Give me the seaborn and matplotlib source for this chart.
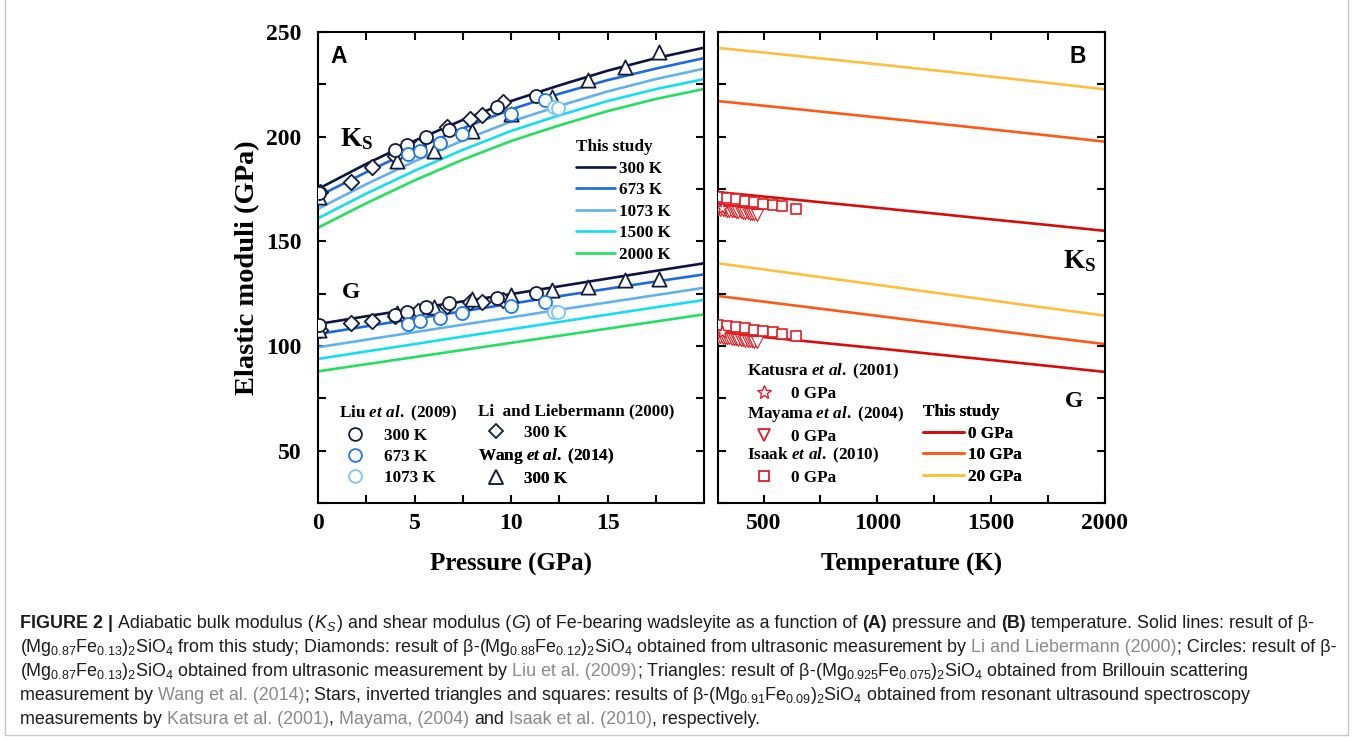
import numpy as np
import pandas as pd
import matplotlib
matplotlib.use("Agg")
import matplotlib.pyplot as plt
import seaborn as sns
from matplotlib.lines import Line2D
from matplotlib.ticker import MultipleLocator, FixedLocator

# ---------------- data ----------------
pressure = [0, 2.5, 5, 7.5, 10, 12.5, 15, 17.5, 20]
temps_A = ["300 K", "673 K", "1073 K", "1500 K", "2000 K"]
ks_300 = [175.0, 187.0, 198.0, 208.0, 217.0, 224.5, 231.5, 237.5, 242.5]
ks_673 = [171.5, 183.0, 194.0, 204.0, 213.0, 220.5, 227.0, 232.5, 237.5]
ks_1073 = [165.5, 177.3, 188.2, 198.2, 207.2, 214.7, 221.6, 227.5, 232.5]
ks_1500 = [161.0, 172.8, 183.7, 193.7, 202.7, 210.2, 217.0, 222.7, 227.5]
ks_2000 = [156.5, 168.2, 179.1, 189.0, 197.9, 205.4, 212.2, 218.0, 222.8]
g_300 = [110.5, 114.2, 117.8, 121.3, 124.8, 128.5, 132.2, 135.9, 139.5]
g_673 = [105.7, 109.4, 113.0, 116.6, 120.2, 123.8, 127.3, 130.8, 134.2]
g_1073 = [99.4, 103.0, 106.6, 110.2, 113.7, 117.3, 120.8, 124.3, 127.8]
g_1500 = [93.8, 97.4, 100.9, 104.5, 108.0, 111.5, 115.0, 118.5, 122.0]
g_2000 = [87.9, 91.3, 94.7, 98.1, 101.5, 104.9, 108.3, 111.7, 115.1]

# Liu et al. (2009)
liu300_P = [0.07, 3.98, 4.59, 5.59, 6.8, 9.3, 11.28]
liu300_K = [172.9, 193.6, 196.0, 200.0, 203.2, 214.0, 219.4]
liu300_G = [110.0, 114.8, 116.4, 118.5, 120.4, 122.8, 125.2]
liu673_P = [4.67, 5.28, 6.31, 7.48, 9.98, 11.78]
liu673_K = [191.7, 193.3, 196.8, 201.1, 210.8, 217.5]
liu673_G = [110.5, 111.9, 113.2, 115.9, 119.1, 121.1]
liu1073_P = [12.21, 12.43]
liu1073_K = [214.3, 213.5]
liu1073_G = [116.4, 116.4]
# Li and Liebermann (2000)
li_P = [0.1, 1.7, 2.8, 4.0, 5.2, 6.7, 7.9, 8.5, 9.6]
li_K = [173.5, 178.3, 185.5, 191.0, 195.5, 204.5, 208.5, 210.5, 216.5]
li_G = [107.6, 110.8, 111.9, 114.3, 116.5, 119.1, 121.1, 121.1, 122.0]
# Wang et al. (2014)
wang_P = [0.07, 4.07, 6.0, 8.0, 9.98, 12.15, 14.0, 15.92, 17.65]
wang_K = [171.3, 188.5, 193.0, 202.6, 210.7, 219.1, 227.1, 233.4, 240.6]
wang_G = [107.5, 116.0, 118.8, 122.4, 124.3, 126.7, 128.3, 131.5, 131.8]

# Panel B: this study
temperature = [300, 500, 750, 1000, 1250, 1500, 1750, 2000]
press_B = ["0 GPa", "10 GPa", "20 GPa"]
ksT_0 = [173.5, 171.4, 168.7, 166.0, 163.3, 160.5, 157.8, 155.0]
ksT_10 = [217.0, 214.8, 212.0, 209.2, 206.4, 203.5, 200.6, 197.6]
ksT_20 = [242.4, 240.2, 237.4, 234.6, 231.7, 228.7, 225.7, 222.6]
gT_0 = [106.5, 104.3, 101.6, 98.9, 96.1, 93.3, 90.5, 87.6]
gT_10 = [123.9, 121.2, 117.8, 114.4, 111.0, 107.6, 104.2, 100.9]
gT_20 = [139.5, 136.6, 132.9, 129.2, 125.5, 121.8, 118.1, 114.5]
# Isaak et al. (2010)
isaak_T = [300, 338, 379, 419, 460, 499, 540, 580, 641]
isaak_K = [171.0, 170.5, 170.1, 169.3, 168.6, 168.0, 167.5, 166.9, 165.3]
isaak_G = [110.0, 109.5, 108.9, 108.4, 107.8, 107.3, 106.5, 105.7, 104.8]
# Mayama et al. (2004)
mayama_T = [300, 310, 320, 330, 340, 350, 360, 370, 380, 390, 400, 410, 420, 430, 440, 450, 460, 470]
mayama_K = [165.3, 165.2, 165.0, 164.9, 164.7, 164.6, 164.4, 164.3, 164.1, 164.0, 163.8, 163.7, 163.5, 163.4, 163.2, 163.1, 162.9, 162.8]
mayama_G = [104.3, 104.2, 104.0, 103.9, 103.7, 103.6, 103.4, 103.3, 103.2, 103.0, 102.9, 102.7, 102.6, 102.4, 102.3, 102.2, 102.0, 101.9]
# Katsura et al. (2001)
katsura_T = [318]
katsura_K = [166.1]
katsura_G = [106.8]

# ---------------- style ----------------
sns.set_theme(style="ticks")
SERIF = "Liberation Serif"
plt.rcParams.update({
    "font.family": [SERIF, "DejaVu Serif"],
    "font.weight": "bold",
    "mathtext.fontset": "custom",
    "mathtext.rm": "Liberation Serif:bold",
    "mathtext.it": "Liberation Serif:italic:bold",
    "mathtext.bf": "Liberation Serif:bold",
    "axes.linewidth": 1.5,
    "axes.edgecolor": "black",
    "xtick.color": "black",
    "ytick.color": "black",
    "axes.labelcolor": "black",
    "text.color": "black",
})

colA = ["#0c1445", "#1a6ae6", "#62b2ee", "#12e0f0", "#22e060"]
colB = ["#d90c0c", "#ff5a14", "#ffbe3c"]
navy_m = "#141c3c"
red_m = "#e01e24"

W, H = 1354, 740
fig = plt.figure(figsize=(W / 100, H / 100), dpi=100)


def rect(x0, y0, x1, y1):
    return [x0 / W, 1 - y1 / H, (x1 - x0) / W, (y1 - y0) / H]


axA = fig.add_axes(rect(318, 32, 704, 503))
axB = fig.add_axes(rect(718, 32, 1105, 503))

# ---------------- panel A ----------------
dfA = pd.DataFrame({
    "P": pressure * 5,
    "K": ks_300 + ks_673 + ks_1073 + ks_1500 + ks_2000,
    "G": g_300 + g_673 + g_1073 + g_1500 + g_2000,
    "T": [t for t in temps_A for _ in pressure],
})
for col in ["K", "G"]:
    sns.lineplot(data=dfA, x="P", y=col, hue="T", hue_order=temps_A, palette=colA,
                 legend=False, ax=axA, linewidth=1.9, estimator=None, sort=False)

mk = dict(color="white", linewidth=1.3, zorder=3, ax=axA)
for y in [li_K, li_G]:
    sns.scatterplot(x=li_P, y=y, marker="D", s=62, edgecolor=navy_m, **mk)
for y in [wang_K, wang_G]:
    sns.scatterplot(x=wang_P, y=y, marker="^", s=105, edgecolor=navy_m, **mk)
for xs, ys, c in [(liu300_P, liu300_K, "#141c3c"), (liu300_P, liu300_G, "#141c3c"),
                  (liu673_P, liu673_K, "#1f78f0"), (liu673_P, liu673_G, "#1f78f0"),
                  (liu1073_P, liu1073_K, "#7cc6f6"), (liu1073_P, liu1073_G, "#7cc6f6")]:
    sns.scatterplot(x=xs, y=ys, marker="o", s=88, edgecolor=c, **mk)

# ---------------- panel B ----------------
dfB = pd.DataFrame({
    "T": temperature * 3,
    "K": ksT_0 + ksT_10 + ksT_20,
    "G": gT_0 + gT_10 + gT_20,
    "P": [p for p in press_B for _ in temperature],
})
for col in ["K", "G"]:
    sns.lineplot(data=dfB, x="T", y=col, hue="P", hue_order=press_B, palette=colB,
                 legend=False, ax=axB, linewidth=1.9, estimator=None, sort=False)
mkB = dict(color="white", edgecolor=red_m, zorder=3, ax=axB)
for y in [isaak_K, isaak_G]:
    sns.scatterplot(x=isaak_T, y=y, marker="s", s=48, linewidth=1.2, **mkB)
for y in [mayama_K, mayama_G]:
    sns.scatterplot(x=mayama_T, y=y, marker="v", s=75, linewidth=0.8, **mkB)
for y in [katsura_K, katsura_G]:
    sns.scatterplot(x=katsura_T, y=y, marker="*", s=90, linewidth=1.0, **mkB)

# ---------------- axes formatting ----------------
tickfont = dict(family=SERIF, weight="bold", size=17)
for ax in (axA, axB):
    ax.set_ylim(25, 250)
    ax.yaxis.set_major_locator(FixedLocator([50, 100, 150, 200, 250]))
    ax.yaxis.set_minor_locator(FixedLocator([25, 75, 125, 175, 225]))
    ax.tick_params(which="both", direction="in", top=True, right=True,
                   length=6, width=1.5, labelsize=17)
    for s in ax.spines.values():
        s.set_linewidth(1.5)
        s.set_visible(True)
    ax.set_xlabel("")
    ax.set_ylabel("")

axA.set_xlim(0, 20)
axA.xaxis.set_major_locator(FixedLocator([0, 5, 10, 15]))
axA.xaxis.set_minor_locator(FixedLocator([2.5, 7.5, 12.5, 17.5]))
axA.tick_params(axis="y", pad=12)
axA.tick_params(axis="x", pad=7)
axB.set_xlim(300, 2000)
axB.xaxis.set_major_locator(FixedLocator([500, 1000, 1500, 2000]))
axB.xaxis.set_minor_locator(FixedLocator([750, 1250, 1750]))
axB.tick_params(axis="y", labelleft=False)
axB.tick_params(axis="x", pad=7)
for ax in (axA, axB):
    for lab in ax.get_xticklabels() + ax.get_yticklabels():
        lab.set_fontproperties(tickfont)

axA.set_xlabel("Pressure (GPa)", fontsize=18, fontweight="bold", labelpad=14)
axB.set_xlabel("Temperature (K)", fontsize=18, fontweight="bold", labelpad=14)
axA.set_ylabel("Elastic moduli (GPa)", fontsize=20.5, fontweight="bold", labelpad=4)

# panel annotations
axA.text(0.031, 0.934, "A", transform=axA.transAxes, family="Liberation Sans",
         weight="bold", size=16.5, va="baseline")
axB.text(0.907, 0.934, "B", transform=axB.transAxes, family="Liberation Sans",
         weight="bold", size=16.5, va="baseline")
axA.text(0.057, 0.758, r"$\mathregular{K_S}$", transform=axA.transAxes, size=19.5,
         weight="bold", va="baseline")
axA.text(0.062, 0.435, "G", transform=axA.transAxes, size=17, weight="bold", va="baseline")
axB.text(0.891, 0.499, r"$\mathregular{K_S}$", transform=axB.transAxes, size=19.5,
         weight="bold", va="baseline")
axB.text(0.897, 0.204, "G", transform=axB.transAxes, size=17, weight="bold", va="baseline")

# ---------------- legends ----------------
lp = dict(family=SERIF, weight="bold", size=12.3)


def add_leg(ax, handles, labels, title, x, y, hl, htp, ls=0.28):
    leg = ax.legend(handles, labels, title=title, loc="upper left", bbox_to_anchor=(x, y),
                    bbox_transform=ax.transAxes, frameon=False, borderpad=0,
                    borderaxespad=0, prop=lp, title_fontproperties=lp, alignment="left",
                    handlelength=hl, handletextpad=htp, labelspacing=ls)
    ax.add_artist(leg)
    return leg


def mline(c):
    return Line2D([], [], color=c, lw=1.9)


def mmark(m, c, ms, mew=1.3):
    return Line2D([], [], marker=m, ls="none", mfc="white", mec=c, ms=ms, mew=mew)


add_leg(axA, [mline(c) for c in colA], temps_A, "This study", 0.668, 0.773, 2.3, 0.25, 0.33)
add_leg(axA, [mmark("o", c, 9.2) for c in ["#141c3c", "#1f78f0", "#7cc6f6"]],
        ["300 K", "673 K", "1073 K"], r"Liu $\mathit{et\ al.}$ (2009)", 0.055, 0.211, 1.8, 0.8, 0.3)
add_leg(axA, [mmark("D", navy_m, 7.6)], ["300 K"], "Li  and Liebermann (2000)",
        0.415, 0.211, 2.1, 0.6, 0.3)
add_leg(axA, [mmark("^", navy_m, 10)], ["300 K"], r"Wang $\mathit{et\ al.}$ (2014)",
        0.415, 0.121, 2.1, 0.6, 0.3)
add_leg(axB, [mmark("*", red_m, 10, 1.0)], ["0 GPa"], r"Katusra $\mathit{et\ al.}$ (2001)",
        0.075, 0.300, 2.0, 0.6, 0.3)
add_leg(axB, [mmark("v", red_m, 9)], ["0 GPa"], r"Mayama $\mathit{et\ al.}$ (2004)",
        0.075, 0.210, 2.0, 0.6, 0.3)
add_leg(axB, [mmark("s", red_m, 7)], ["0 GPa"], r"Isaak $\mathit{et\ al.}$ (2010)",
        0.075, 0.121, 2.0, 0.6, 0.3)
add_leg(axB, [mline(c) for c in colB], press_B, "This study", 0.530, 0.210, 2.4, 0.25, 0.33)

# ---------------- caption ----------------
BASE = "#1e1b1c"
LINK = "#8a8a8a"
CAP = 12.85
renderer = fig.canvas.get_renderer()


def width_of(s, props):
    a = fig.text(0, 0, "l" + s + "l", **props)
    b = fig.text(0, 0, "ll", **props)
    w = a.get_window_extent(renderer).width - b.get_window_extent(renderer).width
    a.remove()
    b.remove()
    return w


def rich_line(x_px, y_px, pieces):
    x = x_px
    for txt, kw in pieces:
        props = dict(fontsize=CAP, family="Liberation Sans", color=BASE,
                     weight="normal", style="normal")
        props.update(kw)
        lead = len(txt) - len(txt.lstrip(" "))
        core = txt.strip(" ")
        off = width_of(" " * lead, props) if lead else 0
        if core:
            fig.text((x + off) / W, 1 - y_px / H, core, ha="left", va="baseline", **props)
        x += width_of(txt, props)


B_ = dict(weight="bold")
I_ = dict(style="italic")
L_ = dict(color=LINK)
f087 = r"(Mg$\mathregular{_{0.87}}$Fe$\mathregular{_{0.13}}$)$\mathregular{_2}$SiO$\mathregular{_4}$"
f088 = r"β-(Mg$\mathregular{_{0.88}}$Fe$\mathregular{_{0.12}}$)$\mathregular{_2}$SiO$\mathregular{_4}$"
f0925 = r"β-(Mg$\mathregular{_{0.925}}$Fe$\mathregular{_{0.075}}$)$\mathregular{_2}$SiO$\mathregular{_4}$"
f091 = r"β-(Mg$\mathregular{_{0.91}}$Fe$\mathregular{_{0.09}}$)$\mathregular{_2}$SiO$\mathregular{_4}$"

lines = [
    [("FIGURE 2 | ", B_), ("Adiabatic bulk modulus (", {}), (r"K$\mathregular{_S}$", I_),
     (") and shear modulus (", {}), ("G", I_),
     (") of Fe-bearing wadsleyite as a function of ", {}), ("(A)", B_),
     (" pressure and ", {}), ("(B)", B_), (" temperature. Solid lines: result of β-", {})],
    [(f087 + " from this study; Diamonds: result of " + f088 +
      " obtained from ultrasonic measurement by ", {}), ("Li and Liebermann (2000)", L_),
     ("; Circles: result of β-", {})],
    [(f087 + " obtained from ultrasonic measurement by ", {}), ("Liu et al. (2009)", L_),
     ("; Triangles: result of " + f0925 + " obtained from Brillouin scattering", {})],
    [("measurement by ", {}), ("Wang et al. (2014)", L_),
     ("; Stars, inverted triangles and squares: results of " + f091 +
      " obtained from resonant ultrasound spectroscopy", {})],
    [("measurements by ", {}), ("Katsura et al. (2001)", L_), (", ", {}),
     ("Mayama, (2004)", L_), (" and ", {}), ("Isaak et al. (2010)", L_),
     (", respectively.", {})],
]
for i, pcs in enumerate(lines):
    rich_line(20, 628 + 24 * i, pcs)

# outer border
for xs, ys in [([5, 5], [0, 735]), ([1348, 1348], [0, 735]), ([5, 1348], [735, 735])]:
    fig.add_artist(Line2D([x / W for x in xs], [1 - y / H for y in ys], color="#c8c8c8", lw=1.0))

fig.savefig("out.png", dpi=100)
